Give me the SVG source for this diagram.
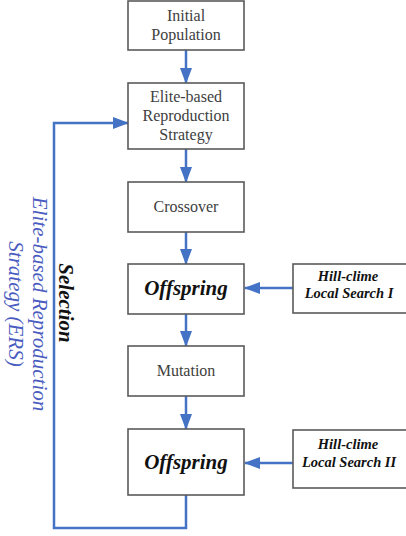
<svg xmlns="http://www.w3.org/2000/svg" width="406" height="536" viewBox="0 0 406 536">
<style>
.box{fill:#fff;stroke:#5a5a5a;stroke-width:1.6}
.t{font-family:"Liberation Serif","Times New Roman",serif;font-size:16px;fill:#404040;text-anchor:middle}
.off{font-family:"Liberation Serif","Times New Roman",serif;font-size:21px;font-weight:bold;font-style:italic;fill:#111;text-anchor:middle}
.hc{font-family:"Liberation Serif","Times New Roman",serif;font-size:14.5px;font-weight:bold;font-style:italic;fill:#111;text-anchor:middle}
.c{fill:none;stroke:#4472C4;stroke-width:2.5}
.sel{font-family:"Liberation Serif","Times New Roman",serif;font-size:21px;font-weight:bold;font-style:italic;fill:#111;text-anchor:middle}
.ers{font-family:"Liberation Serif","Times New Roman",serif;font-size:21px;font-style:italic;fill:#4a5cc0;text-anchor:middle}
</style>
<defs>
<marker id="ah" markerWidth="16" markerHeight="12" refX="15" refY="6" orient="auto" markerUnits="userSpaceOnUse">
<path d="M0,0 L16,6 L0,12 Z" fill="#4472C4"/>
</marker>
</defs>
<rect width="406" height="536" fill="#fff"/>
<g id="connectors">
<line class="c" x1="186" y1="50" x2="186" y2="83" marker-end="url(#ah)"/>
<line class="c" x1="186" y1="149" x2="186" y2="182" marker-end="url(#ah)"/>
<line class="c" x1="186" y1="232" x2="186" y2="264" marker-end="url(#ah)"/>
<line class="c" x1="186" y1="314" x2="186" y2="346" marker-end="url(#ah)"/>
<line class="c" x1="186" y1="396" x2="186" y2="429" marker-end="url(#ah)"/>
<path class="c" d="M186,495 V528 H54 V123 H128" marker-end="url(#ah)"/>
<line class="c" x1="293" y1="288" x2="245" y2="288" marker-end="url(#ah)"/>
<line class="c" x1="293" y1="463" x2="245" y2="463" marker-end="url(#ah)"/>
</g>
<g id="initial">
<rect class="box" x="128" y="1" width="116" height="49"/>
<text class="t" x="186" y="21">Initial</text>
<text class="t" x="186" y="40">Population</text>
</g>
<g id="ers-box">
<rect class="box" x="128" y="83" width="116" height="66"/>
<text class="t" x="186" y="102">Elite-based</text>
<text class="t" x="186" y="121">Reproduction</text>
<text class="t" x="186" y="140">Strategy</text>
</g>
<g id="crossover">
<rect class="box" x="128" y="182" width="116" height="50"/>
<text class="t" x="186" y="212">Crossover</text>
</g>
<g id="offspring1">
<rect class="box" x="128" y="264" width="116" height="50"/>
<text class="off" x="186" y="295">Offspring</text>
</g>
<g id="mutation">
<rect class="box" x="128" y="346" width="116" height="50"/>
<text class="t" x="186" y="376">Mutation</text>
</g>
<g id="offspring2">
<rect class="box" x="128" y="429" width="116" height="66"/>
<text class="off" x="186" y="469">Offspring</text>
</g>
<g id="hill1">
<rect class="box" x="293" y="264" width="120" height="49"/>
<text class="hc" x="348" y="281">Hill-clime</text>
<text class="hc" x="349" y="298">Local Search I</text>
</g>
<g id="hill2">
<rect class="box" x="293" y="430" width="120" height="58"/>
<text class="hc" x="348" y="449">Hill-clime</text>
<text class="hc" x="349" y="467">Local Search II</text>
</g>
<g id="labels">
<text class="sel" transform="translate(59,303) rotate(90)">Selection</text>
<text class="ers" transform="translate(33,304) rotate(90)">Elite-based Reproduction</text>
<text class="ers" transform="translate(9,304) rotate(90)">Strategy (ERS)</text>
</g>
</svg>
